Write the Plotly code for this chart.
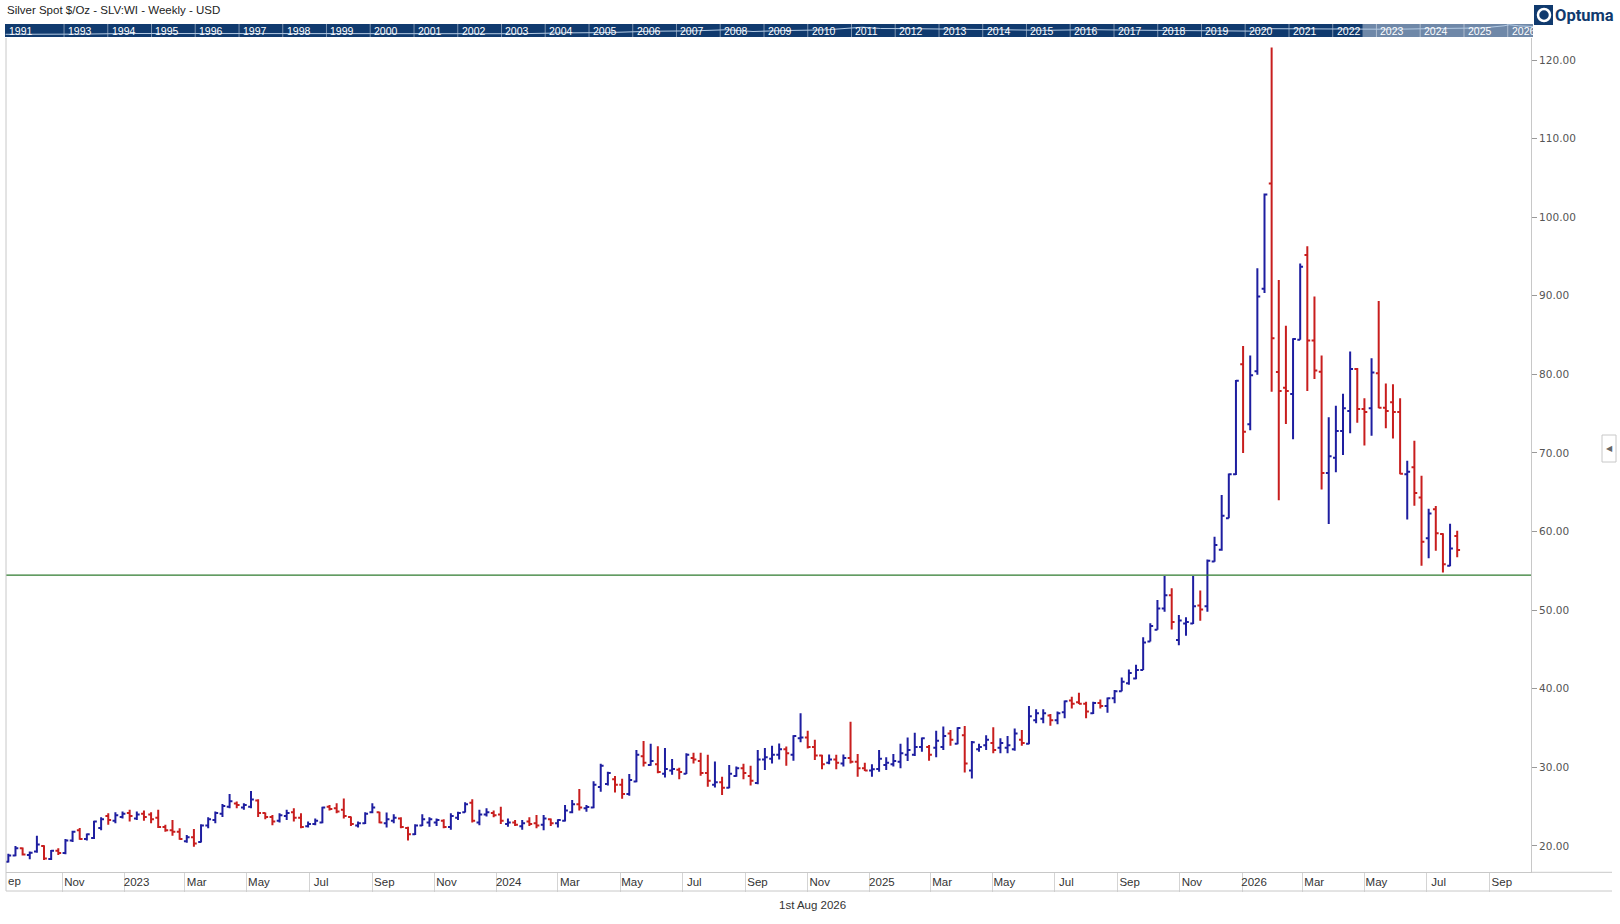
import pandas as pd
import plotly.graph_objects as go

# weekly silver bars, Sep 2022 .. Jul 2026
bar_open = [
    18.0, 18.8, 19.7, 18.85, 19.3, 20.0, 18.35, 19.4, 19.1, 20.7,
    22.0, 20.9, 21.0, 22.3, 23.8, 23.2, 23.7, 24.2, 23.5, 24.1,
    24.0, 23.6, 22.4, 22.0, 21.8, 20.6, 21.1, 20.5, 22.6, 23.3,
    24.1, 25.0, 25.4, 24.9, 25.0, 25.8, 24.2, 23.7, 23.2, 23.8,
    24.3, 23.6, 22.5, 22.8, 23.0, 25.0, 24.8, 24.6, 23.7, 22.6,
    22.9, 24.3, 24.3, 22.9, 23.2, 23.5, 22.3, 21.5, 22.6, 23.0,
    23.0, 23.2, 22.4, 23.6, 24.3, 25.5, 23.0, 24.0, 24.2, 24.0,
    22.8, 23.0, 22.5, 23.1, 22.9, 22.7, 23.4, 22.9, 23.2, 24.3,
    25.3, 24.8, 24.9, 27.5, 27.9, 28.5, 27.8, 26.6, 28.2, 31.4,
    30.3, 30.4, 29.2, 29.6, 29.7, 29.2, 31.2, 30.8, 29.3, 27.8,
    28.1, 27.4, 28.9, 29.9, 28.9, 28.0, 31.0, 31.1, 31.6, 32.3,
    31.6, 33.7, 33.8, 32.6, 31.5, 30.6, 31.0, 30.5, 31.2, 30.7,
    29.9, 29.6, 29.8, 30.3, 30.4, 30.7, 31.6, 31.6, 32.6, 32.6,
    32.5, 32.6, 34.3, 33.0, 34.1, 29.6, 32.3, 32.8, 33.1, 32.5,
    32.5, 32.3, 33.5, 33.0, 36.0, 36.2, 36.6, 36.0, 37.0, 38.5,
    38.3, 38.1, 36.9, 38.2, 37.8, 38.8, 39.7, 40.7, 41.3, 42.4,
    46.0, 47.5, 50.2, 51.9, 46.2, 48.3, 48.3, 50.6, 50.5, 56.2,
    57.7, 61.7, 67.3, 81.3, 73.65, 80.4, 90.9, 104.3, 80.3, 78.3,
    77.5, 84.4, 95.2, 84.3, 80.35, 67.45, 69.4, 72.8, 75.35, 80.7,
    75.6, 75.7, 80.15, 75.75, 76.45, 75.2, 67.3, 68.2, 64.35, 59.15,
    62.85, 59.7, 55.65, 59.45,
]
bar_high = [
    19.0, 20.0, 19.8, 19.3, 21.3, 20.1, 19.5, 19.7, 20.9, 21.95,
    22.3, 21.6, 23.2, 23.65, 24.15, 24.3, 24.4, 24.6, 24.4, 24.5,
    24.3, 24.6, 22.7, 23.3, 22.25, 21.4, 22.15, 22.75, 23.65, 24.4,
    25.35, 26.6, 25.65, 25.45, 27.0, 25.95, 24.25, 23.95, 24.15, 24.6,
    24.8, 24.15, 23.1, 23.5, 25.0, 25.2, 25.45, 26.05, 23.75, 23.1,
    24.3, 25.45, 24.35, 24.25, 24.05, 23.65, 22.45, 22.75, 24.05, 23.65,
    23.5, 23.4, 24.15, 24.35, 25.55, 25.95, 24.6, 24.8, 24.5, 25.0,
    23.5, 23.3, 23.3, 23.65, 23.95, 23.95, 23.5, 23.4, 25.2, 25.85,
    27.25, 25.2, 28.25, 30.45, 29.45, 28.9, 28.55, 29.15, 32.2, 33.35,
    33.0, 32.7, 32.45, 31.05, 29.95, 31.8, 31.85, 31.85, 31.6, 30.75,
    28.8, 30.3, 30.1, 30.45, 30.2, 32.2, 32.45, 32.75, 33.05, 32.65,
    34.1, 36.9, 34.65, 33.5, 31.6, 31.65, 31.6, 31.65, 35.8, 31.7,
    30.6, 30.4, 32.2, 31.3, 31.7, 33.0, 33.8, 34.4, 33.8, 32.85,
    34.65, 35.2, 34.75, 35.1, 35.25, 33.35, 33.0, 34.1, 35.1, 33.7,
    34.0, 34.95, 34.75, 37.8, 37.4, 37.4, 36.8, 37.1, 38.5, 39.0,
    39.5, 38.35, 38.35, 38.65, 38.9, 39.85, 41.45, 42.45, 43.05, 46.55,
    48.35, 51.3, 54.35, 52.8, 49.4, 49.1, 54.35, 52.5, 56.45, 59.35,
    64.65, 67.4, 79.3, 83.6, 82.4, 93.5, 103.0, 121.6, 92.0, 86.2,
    84.6, 94.1, 96.3, 89.9, 82.4, 74.55, 76.0, 77.55, 82.9, 80.8,
    76.95, 82.05, 89.35, 78.85, 78.75, 76.95, 69.0, 71.55, 67.1, 62.9,
    63.25, 59.8, 61.0, 60.1,
]
bar_low = [
    17.9, 18.7, 18.8, 18.3, 19.15, 18.2, 18.2, 18.85, 18.95, 20.5,
    20.8, 20.7, 20.9, 22.0, 22.7, 22.9, 23.5, 23.1, 23.3, 23.2,
    22.9, 22.3, 21.8, 21.3, 20.8, 20.4, 19.9, 20.45, 22.25, 22.9,
    23.7, 24.8, 24.8, 24.6, 24.8, 23.7, 23.4, 22.65, 23.0, 23.3,
    23.1, 22.25, 22.35, 22.65, 22.9, 24.5, 24.15, 23.5, 22.55, 22.35,
    22.8, 24.15, 22.9, 22.35, 22.9, 22.25, 20.7, 21.4, 22.55, 22.45,
    22.55, 22.25, 22.05, 23.3, 24.25, 23.0, 22.65, 23.75, 23.65, 22.8,
    22.45, 22.55, 22.05, 22.55, 22.25, 22.0, 22.55, 22.35, 23.1, 24.15,
    24.5, 24.35, 24.8, 26.9, 27.7, 26.8, 26.0, 26.4, 28.1, 30.1,
    30.2, 29.25, 28.7, 29.05, 28.5, 29.15, 30.5, 28.95, 27.55, 27.45,
    26.5, 27.35, 28.8, 28.5, 27.7, 27.85, 29.65, 30.5, 31.0, 30.2,
    30.85, 33.2, 32.4, 30.95, 29.75, 30.4, 29.75, 30.1, 30.5, 28.8,
    29.55, 28.8, 29.45, 29.65, 30.1, 29.9, 30.8, 31.45, 32.0, 30.85,
    31.3, 32.2, 32.75, 32.95, 29.35, 28.6, 32.0, 32.2, 31.8, 31.8,
    31.8, 32.1, 32.75, 32.95, 35.6, 35.6, 35.3, 35.5, 36.25, 37.5,
    38.05, 36.25, 36.8, 37.5, 36.95, 38.15, 39.7, 40.5, 41.2, 42.4,
    46.0, 47.5, 49.8, 47.55, 45.55, 46.75, 48.25, 48.65, 49.8, 56.15,
    57.55, 61.7, 67.2, 70.0, 72.9, 79.95, 90.35, 77.8, 64.0, 73.7,
    71.75, 84.4, 77.9, 79.4, 65.35, 60.95, 67.55, 69.75, 72.5, 73.85,
    70.95, 72.2, 75.7, 73.15, 71.85, 67.3, 61.55, 63.3, 55.65, 56.6,
    57.55, 54.8, 55.6, 56.75,
]
bar_close = [
    18.8, 19.7, 18.9, 19.15, 20.2, 18.4, 19.4, 19.1, 20.7, 21.8,
    20.9, 21.5, 23.1, 23.4, 23.3, 23.9, 24.1, 23.8, 24.0, 23.7,
    23.4, 22.4, 22.0, 21.8, 20.9, 21.1, 20.3, 22.6, 23.4, 24.2,
    25.1, 25.7, 25.2, 25.2, 25.9, 24.2, 23.7, 23.1, 23.9, 24.2,
    23.6, 22.4, 22.8, 23.2, 24.9, 24.7, 24.4, 23.8, 22.8, 22.9,
    24.1, 24.9, 23.0, 23.4, 23.6, 22.4, 21.5, 22.6, 23.4, 23.4,
    23.3, 22.4, 23.8, 24.2, 25.3, 23.2, 24.0, 24.3, 23.9, 23.2,
    23.0, 22.7, 22.9, 22.8, 22.6, 23.5, 22.9, 23.3, 24.5, 25.3,
    24.9, 24.95, 27.8, 30.2, 29.3, 27.8, 26.6, 28.4, 31.6, 30.6,
    30.8, 29.4, 29.8, 29.8, 29.4, 31.6, 31.0, 29.3, 28.3, 28.1,
    27.4, 29.2, 29.9, 29.3, 28.3, 31.0, 31.3, 31.6, 32.3, 31.8,
    34.0, 33.8, 32.6, 31.5, 30.4, 31.0, 30.6, 31.2, 30.7, 29.9,
    29.6, 29.75, 31.1, 30.6, 30.8, 31.8, 32.2, 32.6, 33.7, 31.6,
    33.4, 34.0, 33.5, 35.0, 30.5, 33.2, 32.6, 33.5, 32.2, 33.1,
    32.8, 34.3, 33.1, 36.5, 36.9, 36.9, 36.0, 36.9, 38.4, 38.1,
    38.1, 37.1, 38.2, 37.8, 38.8, 39.7, 40.9, 42.0, 42.4, 45.9,
    48.0, 50.2, 51.9, 48.5, 48.7, 48.5, 50.5, 50.1, 56.3, 58.3,
    62.0, 67.3, 79.2, 72.7, 79.9, 89.9, 102.9, 84.6, 77.9, 77.9,
    84.5, 93.7, 84.3, 80.5, 67.45, 69.6, 72.8, 75.7, 80.7, 75.6,
    75.2, 80.25, 75.75, 75.35, 75.2, 67.35, 67.6, 64.9, 58.7, 62.3,
    59.8, 55.85, 57.85, 57.65,
]
week_dates = pd.date_range(end="2026-07-31", periods=len(bar_close), freq="W-FRI")

support_level = 54.45

month_ticks = [
    "2022-09-01", "2022-11-01", "2023-01-01", "2023-03-01", "2023-05-01", "2023-07-01",
    "2023-09-01", "2023-11-01", "2024-01-01", "2024-03-01", "2024-05-01", "2024-07-01",
    "2024-09-01", "2024-11-01", "2025-01-01", "2025-03-01", "2025-05-01", "2025-07-01",
    "2025-09-01", "2025-11-01", "2026-01-01", "2026-03-01", "2026-05-01", "2026-07-01",
    "2026-09-01",
]
month_labels = [
    "Sep", "Nov", "2023", "Mar", "May", "Jul", "Sep", "Nov", "2024", "Mar", "May", "Jul",
    "Sep", "Nov", "2025", "Mar", "May", "Jul", "Sep", "Nov", "2026", "Mar", "May", "Jul",
    "Sep",
]
price_ticks = [20, 30, 40, 50, 60, 70, 80, 90, 100, 110, 120]

# navigator strip (whole history, coarse)
nav_years = [1991] + list(range(1993, 2027))
nav_dates = [
    "1991-09-01", "1992-06-01", "1993-06-01", "1994-06-01", "1995-06-01", "1996-06-01",
    "1997-06-01", "1998-06-01", "1999-06-01", "2000-06-01", "2001-06-01", "2002-06-01",
    "2003-06-01", "2004-06-01", "2005-06-01", "2006-06-01", "2007-06-01", "2008-03-01",
    "2008-10-01", "2009-06-01", "2010-06-01", "2011-04-01", "2011-09-01", "2012-06-01",
    "2013-06-01", "2014-06-01", "2015-06-01", "2016-07-01", "2017-06-01", "2018-06-01",
    "2019-06-01", "2020-03-01", "2020-08-01", "2021-06-01", "2022-06-01", "2023-06-01",
    "2024-06-01", "2025-06-01", "2025-12-01", "2026-01-15", "2026-04-01", "2026-07-31",
]
nav_prices = [
    4.0, 4.0, 4.3, 5.3, 5.2, 5.2, 4.8, 5.5, 5.2, 5.0, 4.4, 4.6, 4.9, 6.5, 7.3, 11.5,
    13.3, 19.5, 10.5, 14.5, 18.5, 47, 30, 28, 21, 19.5, 16, 20, 16.8, 16, 15.5, 12,
    28, 26, 21, 23, 30, 36, 75, 110, 75, 58,
]

W, H = 1620, 924
UP = "#1e1ea0"
DOWN = "#c81e1e"
NAVY = "#103a6e"
GRID = "#c8c8c8"
TXT = "Liberation Sans"

x_range = ["2022-09-06 17:00", "2026-10-11 09:00"]
nav_range = ["1991-08-27", "2026-07-31"]
nav_logrange = [0.2, 2.15]
nav_lo, nav_hi = 10 ** nav_logrange[0], 10 ** nav_logrange[1]


def px(x):
    return x / W


def py(y):
    return (H - y) / H


fig = go.Figure()

fig.add_trace(go.Ohlc(
    x=week_dates, open=bar_open, high=bar_high, low=bar_low, close=bar_close,
    increasing=dict(line=dict(color=UP, width=2)),
    decreasing=dict(line=dict(color=DOWN, width=2)),
    tickwidth=0.4, showlegend=False, xaxis="x", yaxis="y",
))

# navigator: dark strip, lighter window over the shown span, year dividers, price line
fig.add_trace(go.Scatter(
    x=[nav_range[0], nav_range[1], nav_range[1], nav_range[0], nav_range[0]],
    y=[nav_lo, nav_lo, nav_hi, nav_hi, nav_lo], mode="lines", fill="toself",
    fillcolor=NAVY, line=dict(width=0), xaxis="x2", yaxis="y2",
    hoverinfo="skip", showlegend=False,
))
fig.add_trace(go.Scatter(
    x=[x_range[0], nav_range[1], nav_range[1], x_range[0], x_range[0]],
    y=[nav_lo, nav_lo, nav_hi, nav_hi, nav_lo], mode="lines", fill="toself",
    fillcolor="rgba(255,255,255,0.40)", line=dict(width=0), xaxis="x2", yaxis="y2",
    hoverinfo="skip", showlegend=False,
))
div_x, div_y = [], []
for yr in nav_years[1:]:
    div_x += [f"{yr}-01-01", f"{yr}-01-01", None]
    div_y += [nav_lo, nav_hi, None]
fig.add_trace(go.Scatter(
    x=div_x, y=div_y, mode="lines", line=dict(color="rgba(255,255,255,0.45)", width=1),
    xaxis="x2", yaxis="y2", hoverinfo="skip", showlegend=False,
))
fig.add_trace(go.Scatter(
    x=nav_dates, y=nav_prices, mode="lines", xaxis="x2", yaxis="y2",
    line=dict(color="#b4cbe4", width=1), hoverinfo="skip", showlegend=False,
))

shapes = [
    dict(type="line", xref="x domain", yref="y", x0=0, x1=1, y0=support_level, y1=support_level,
         line=dict(color="#2e7b2e", width=1.3)),
    # frame lines
    dict(type="line", xref="paper", yref="paper", x0=px(6), x1=px(6), y0=py(891), y1=py(38),
         line=dict(color=GRID, width=1)),
    dict(type="line", xref="paper", yref="paper", x0=px(6), x1=px(1612), y0=py(891), y1=py(891),
         line=dict(color=GRID, width=1)),
    dict(type="line", xref="paper", yref="paper", x0=px(1531), x1=px(1612), y0=py(872.3), y1=py(872.3),
         line=dict(color=GRID, width=1)),
    # collapse button
    dict(type="rect", xref="paper", yref="paper", x0=px(1602), x1=px(1616), y0=py(462), y1=py(435),
         fillcolor="white", line=dict(color=GRID, width=1)),
    # logo mark
    dict(type="rect", xref="paper", yref="paper", x0=px(1534), x1=px(1553), y0=py(25), y1=py(5),
         fillcolor=NAVY, line=dict(width=0)),
    dict(type="circle", xref="paper", yref="paper", x0=px(1538), x1=px(1550), y0=py(21), y1=py(9),
         line=dict(color="white", width=2.5)),
]

annotations = [
    dict(text="Silver Spot $/Oz - SLV:WI - Weekly - USD", xref="paper", yref="paper",
         x=px(5), y=py(9.5), xanchor="left", yanchor="middle", showarrow=False,
         font=dict(family=TXT, size=11.5, color="#222")),
    dict(text="1st Aug 2026", xref="paper", yref="paper", x=px(812), y=py(905),
         xanchor="center", yanchor="middle", showarrow=False,
         font=dict(family=TXT, size=11.5, color="#333")),
    dict(text="ep", xref="paper", yref="paper", x=px(6), y=py(881), xanchor="left",
         yanchor="middle", showarrow=False, font=dict(family=TXT, size=11.5, color="#333")),
    dict(text="<b>Optuma</b>", xref="paper", yref="paper", x=px(1553), y=py(15),
         xanchor="left", yanchor="middle", showarrow=False,
         font=dict(family="Roboto", size=16.5, color=NAVY)),
    dict(text="◀", xref="paper", yref="paper", x=px(1609), y=py(448.5), xanchor="center",
         yanchor="middle", showarrow=False, font=dict(family="DejaVu Sans", size=8, color="#666")),
]
for yr in nav_years:
    start = max(pd.Timestamp(f"{yr}-01-01"), pd.Timestamp(nav_range[0]))
    annotations.append(dict(text=str(yr), xref="x2", yref="paper", x=start, y=py(30.5),
                            xanchor="left", yanchor="middle", xshift=2, showarrow=False,
                            font=dict(family=TXT, size=10.5, color="white")))

fig.update_layout(
    width=W, height=H,
    margin=dict(l=0, r=0, t=0, b=0),
    paper_bgcolor="white", plot_bgcolor="rgba(0,0,0,0)",
    showlegend=False,
    xaxis=dict(
        domain=[px(6), px(1531)], type="date", range=x_range, anchor="y",
        tickvals=month_ticks, ticktext=month_labels,
        ticks="outside", ticklen=19, tickcolor="#d4d4d4", tickwidth=1,
        ticklabelshift=12, ticklabelstandoff=-20,
        showline=True, linecolor=GRID, showgrid=False, zeroline=False,
        tickfont=dict(family=TXT, size=11.5, color="#333"),
        rangeslider=dict(visible=False), automargin=False,
    ),
    yaxis=dict(
        domain=[py(872.3), py(38)], range=[16.65, 122.8], side="right", anchor="x",
        tickvals=price_ticks, tickformat=".2f",
        ticks="outside", ticklen=5, tickcolor="#999",
        showline=True, linecolor=GRID, showgrid=False, zeroline=False,
        tickfont=dict(family="DejaVu Sans", size=10.5, color="#555"), automargin=False,
    ),
    xaxis2=dict(domain=[px(5), px(1533)], type="date", range=nav_range, anchor="y2",
                visible=False),
    yaxis2=dict(domain=[py(37), py(24)], type="log", range=nav_logrange, anchor="x2",
                visible=False),
    annotations=annotations,
)
fig.layout.shapes = shapes

fig.write_html("out.html", config={"displayModeBar": False},
               post_script="document.body.style.margin='0px';")
